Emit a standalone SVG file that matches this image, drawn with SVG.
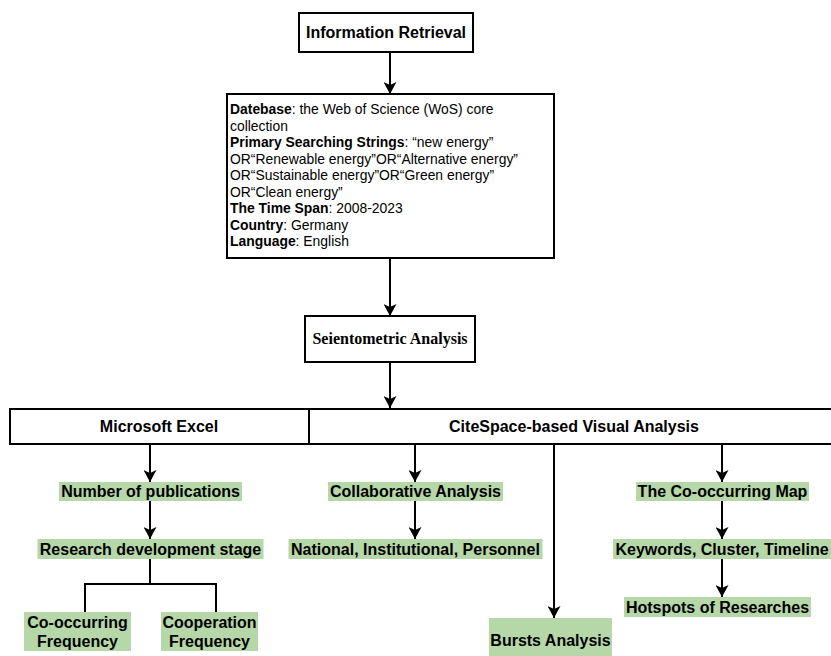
<svg xmlns="http://www.w3.org/2000/svg" width="831" height="656" viewBox="0 0 831 656">
<style>
.box{fill:#ffffff;stroke:#000000;stroke-width:2}
.g{fill:#b6d7a8;stroke:none}
.t{font-family:"Liberation Sans",Arial,sans-serif;font-weight:bold;font-size:16px;fill:#000000;text-anchor:middle}
.s{font-family:"Liberation Serif","Times New Roman",serif;font-weight:bold;font-size:16px;fill:#000000;text-anchor:middle}
.d{font-family:"Liberation Sans",Arial,sans-serif;font-size:13.9px;fill:#000000}
.d tspan.b{font-weight:bold}
.c{fill:none;stroke:#000000;stroke-width:2}
</style>
<defs>
<marker id="ah" viewBox="0 0 12 13" refX="12" refY="6.5" markerWidth="12" markerHeight="13" markerUnits="userSpaceOnUse" orient="auto">
<path d="M0,0 L12,6.5 L0,13 L3,6.5 Z" fill="#000000"/>
</marker>
</defs>
<rect width="831" height="656" fill="#ffffff"/>
<g id="connectors">
<line class="c" x1="390" y1="52" x2="390" y2="94" marker-end="url(#ah)"/>
<line class="c" x1="390" y1="258" x2="390" y2="316" marker-end="url(#ah)"/>
<line class="c" x1="390" y1="362" x2="390" y2="408" marker-end="url(#ah)"/>
<line class="c" x1="150" y1="444" x2="150" y2="482" marker-end="url(#ah)"/>
<line class="c" x1="150" y1="501" x2="150" y2="539" marker-end="url(#ah)"/>
<path class="c" d="M150,559 V584 M85,612 V584 H216 V612"/>
<line class="c" x1="415" y1="444" x2="415" y2="482" marker-end="url(#ah)"/>
<line class="c" x1="415" y1="501" x2="415" y2="539" marker-end="url(#ah)"/>
<line class="c" x1="554" y1="444" x2="554" y2="618" marker-end="url(#ah)"/>
<line class="c" x1="722" y1="444" x2="722" y2="482" marker-end="url(#ah)"/>
<line class="c" x1="722" y1="501" x2="722" y2="539" marker-end="url(#ah)"/>
<line class="c" x1="722" y1="559" x2="722" y2="597" marker-end="url(#ah)"/>
</g>
<g id="information-retrieval">
<rect class="box" x="299" y="13" width="174" height="39"/>
<text class="t" x="386" y="38">Information Retrieval</text>
</g>
<g id="search-criteria">
<rect class="box" x="227" y="94" width="327" height="164"/>
<text class="d" x="230" y="114"><tspan class="b">Datebase</tspan>: the Web of Science (WoS) core</text>
<text class="d" x="230" y="130.5">collection</text>
<text class="d" x="230" y="147"><tspan class="b">Primary Searching Strings</tspan>: “new energy”</text>
<text class="d" x="230" y="163.5">OR“Renewable energy”OR“Alternative energy”</text>
<text class="d" x="230" y="180">OR“Sustainable energy”OR“Green energy”</text>
<text class="d" x="230" y="196.5">OR“Clean energy”</text>
<text class="d" x="230" y="213"><tspan class="b">The Time Span</tspan>: 2008-2023</text>
<text class="d" x="230" y="229.5"><tspan class="b">Country</tspan>: Germany</text>
<text class="d" x="230" y="246"><tspan class="b">Language</tspan>: English</text>
</g>
<g id="scientometric-analysis">
<rect class="box" x="305" y="316" width="170" height="46"/>
<text class="s" x="390" y="344">Seientometric Analysis</text>
</g>
<g id="microsoft-excel">
<rect class="box" x="10" y="409" width="299" height="35"/>
<text class="t" x="159" y="432">Microsoft Excel</text>
</g>
<g id="citespace">
<rect class="box" x="309" y="409" width="530" height="35"/>
<text class="t" x="574" y="432">CiteSpace-based Visual Analysis</text>
</g>
<g id="number-of-publications">
<rect class="g" x="59" y="482" width="183" height="19"/>
<text class="t" x="150.5" y="497">Number of publications</text>
</g>
<g id="research-development-stage">
<rect class="g" x="37.5" y="539" width="226" height="20"/>
<text class="t" x="150.5" y="555">Research development stage</text>
</g>
<g id="co-occurring-frequency">
<rect class="g" x="24" y="612" width="107" height="39"/>
<text class="t" x="77.5" y="627.5">Co-occurring</text>
<text class="t" x="77.5" y="647">Frequency</text>
</g>
<g id="cooperation-frequency">
<rect class="g" x="161" y="612" width="97" height="39"/>
<text class="t" x="209.5" y="627.5">Cooperation</text>
<text class="t" x="209.5" y="647">Frequency</text>
</g>
<g id="collaborative-analysis">
<rect class="g" x="328" y="482" width="175" height="19"/>
<text class="t" x="415.5" y="497">Collaborative Analysis</text>
</g>
<g id="national-institutional-personnel">
<rect class="g" x="288.5" y="539" width="254" height="20"/>
<text class="t" x="415.5" y="555">National, Institutional, Personnel</text>
</g>
<g id="bursts-analysis">
<rect class="g" x="489" y="618" width="123" height="40"/>
<text class="t" x="550.5" y="646">Bursts Analysis</text>
</g>
<g id="co-occurring-map">
<rect class="g" x="636" y="482" width="173" height="19"/>
<text class="t" x="722.5" y="497">The Co-occurring Map</text>
</g>
<g id="keywords-cluster-timeline">
<rect class="g" x="613" y="539" width="230" height="20"/>
<text class="t" x="722" y="555">Keywords, Cluster, Timeline</text>
</g>
<g id="hotspots-of-researches">
<rect class="g" x="624" y="597" width="187" height="20"/>
<text class="t" x="717.5" y="613">Hotspots of Researches</text>
</g>
</svg>
